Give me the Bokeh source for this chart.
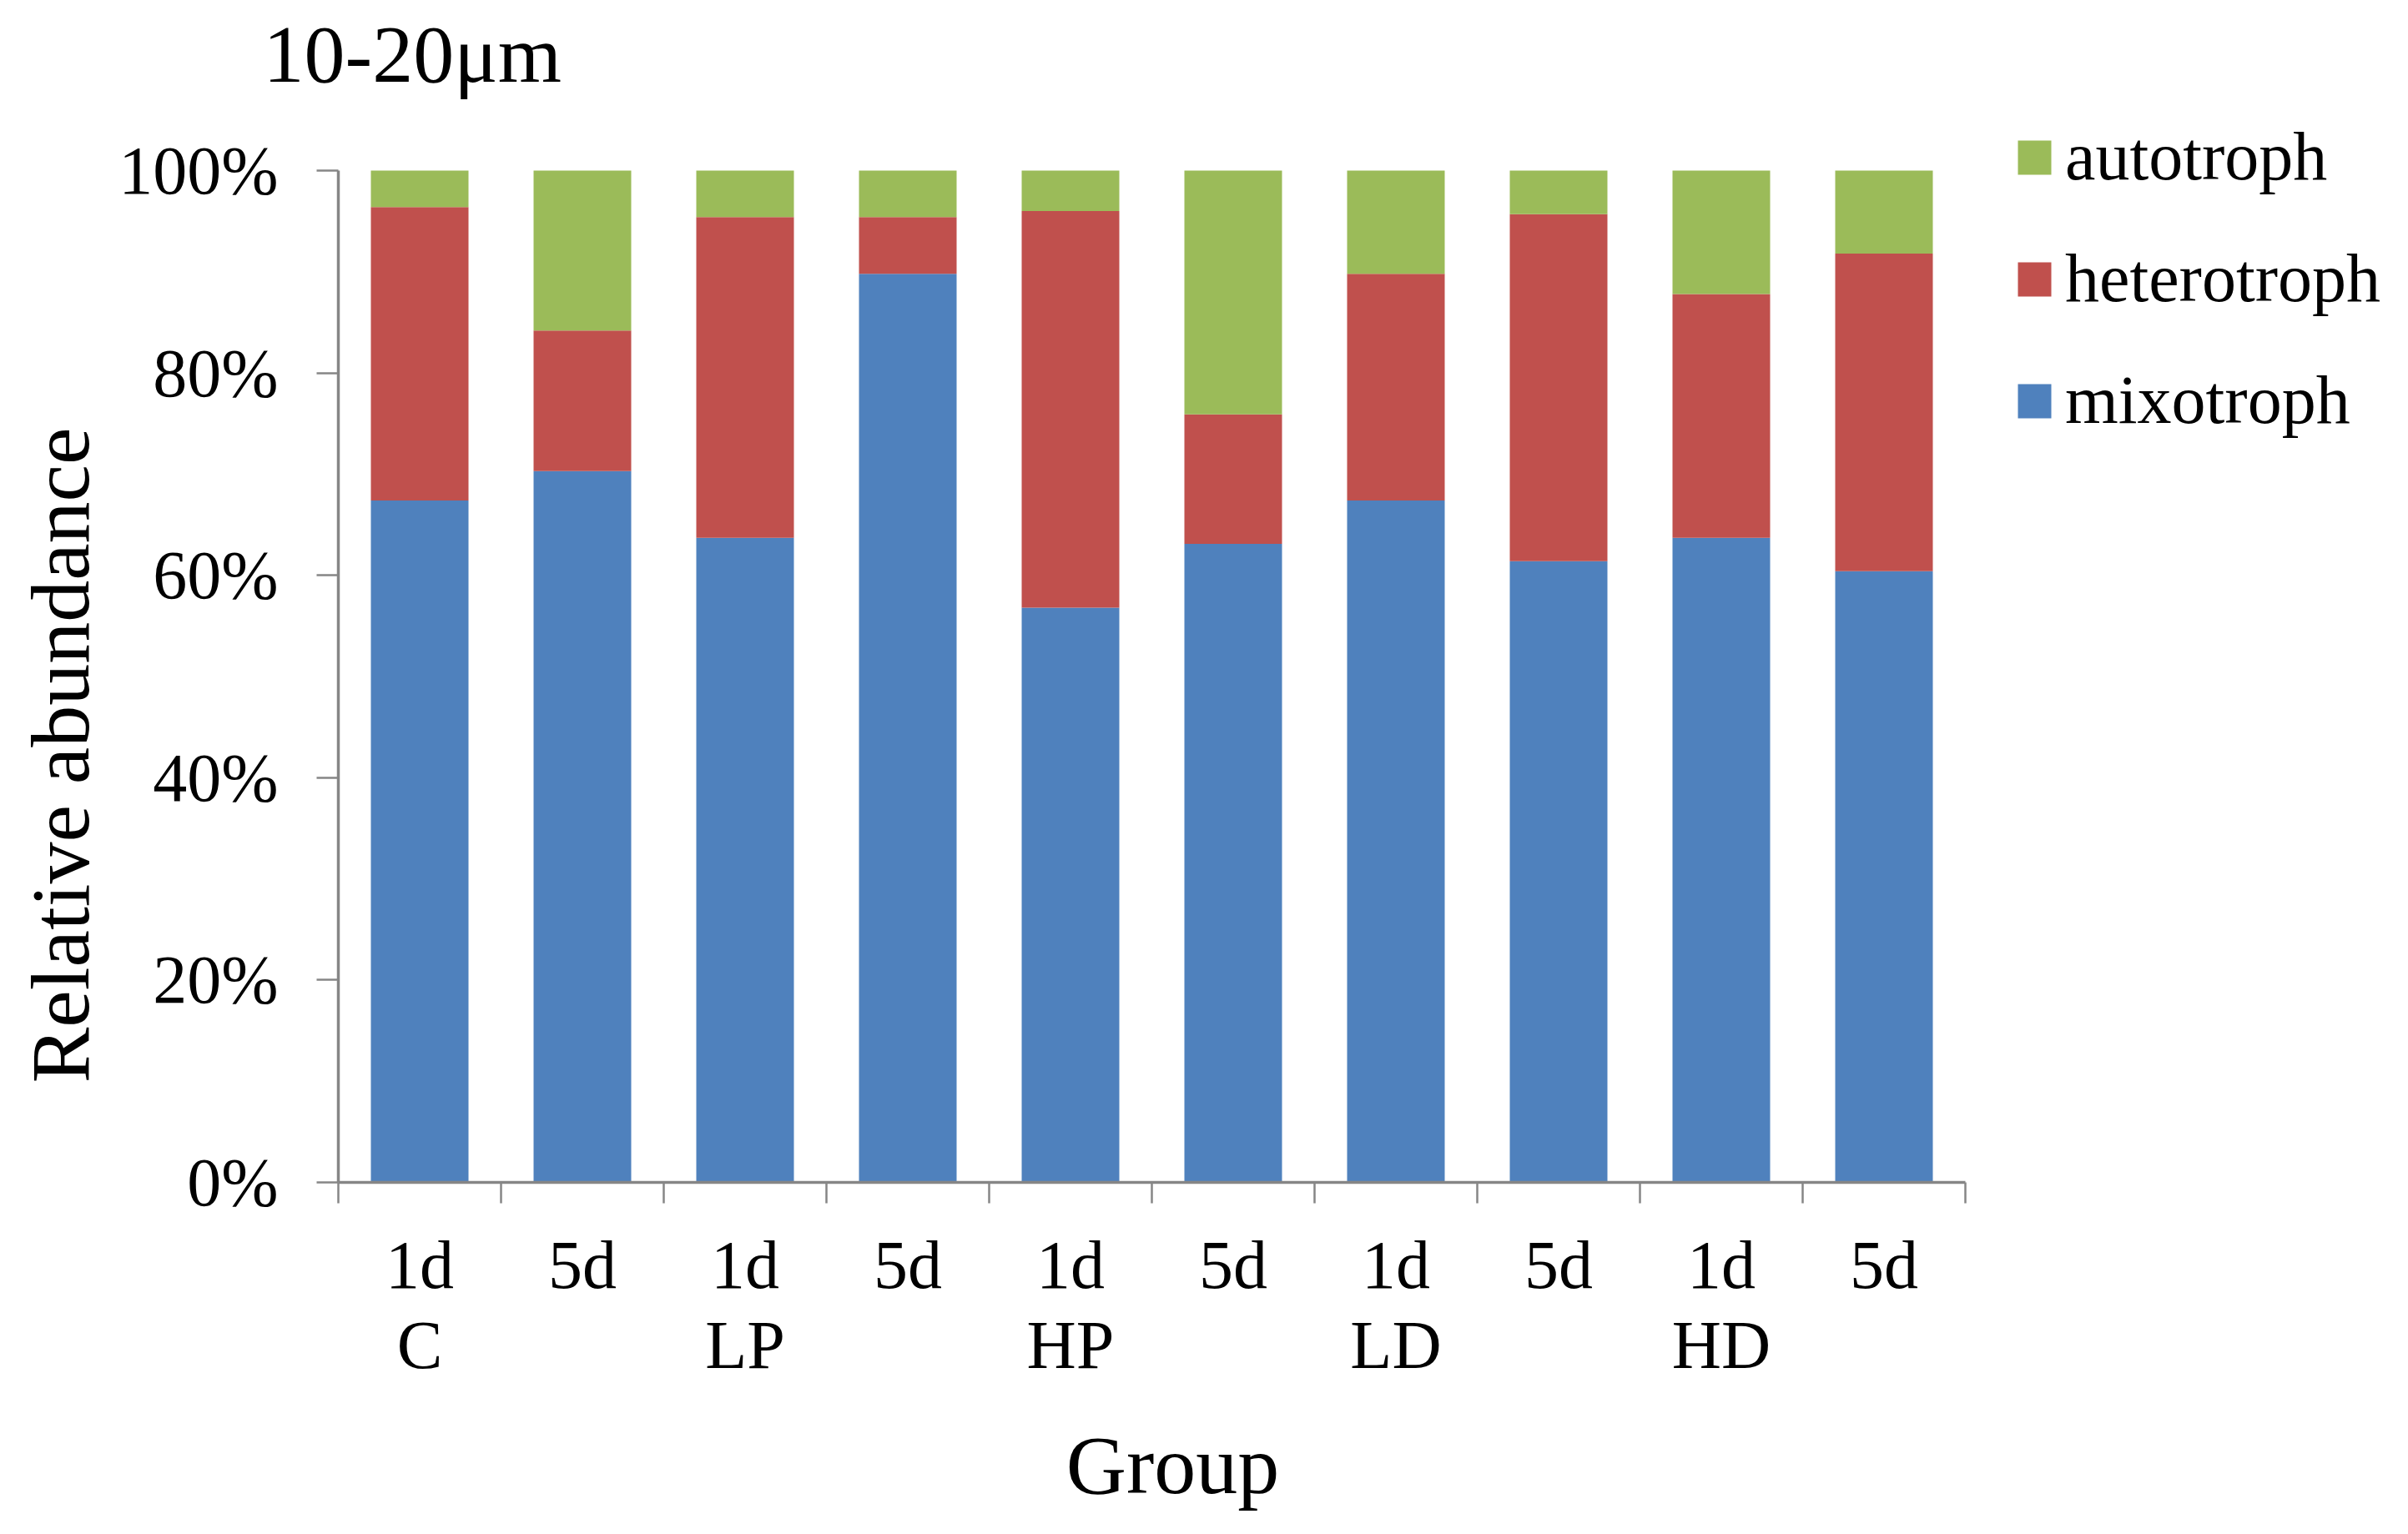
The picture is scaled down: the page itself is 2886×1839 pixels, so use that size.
from math import pi
from bokeh.plotting import figure
from bokeh.models import (ColumnDataSource, Range1d, FixedTicker, PrintfTickFormatter,
                          Label, Legend, LegendItem)
from bokeh.embed import file_html
from bokeh.resources import INLINE

# ---------------- data ----------------
title_text = "10-20μm"
groups = ["C", "LP", "HP", "LD", "HD"]
days = ["1d", "5d"]
series_names = ["mixotroph", "heterotroph", "autotroph"]
mixotroph = [67.4, 70.3, 63.7, 89.8, 56.8, 63.1, 67.4, 61.4, 63.7, 60.4]
heterotroph = [29.0, 13.9, 31.7, 5.6, 39.2, 12.8, 22.4, 34.3, 24.1, 31.4]
autotroph = [3.6, 15.8, 4.6, 4.6, 4.0, 24.1, 10.2, 4.3, 12.2, 8.2]
y_ticks = [0, 20, 40, 60, 80, 100]
colors = ["#4F81BD", "#C0504D", "#9BBB59"]

FONT = "Liberation Serif"
GRAY = "#868686"

# ---------------- layout (pixels) ----------------
W, H = 2870, 1823
PLOT_L, PLOT_R, PLOT_T, PLOT_B = 405, 2355, 204, 1417

n = len(groups) * len(days)
y_max = 100
kx = (PLOT_R - PLOT_L) / n          # px per category
ky = (PLOT_B - PLOT_T) / y_max      # px per percent


def dx(px):
    return (px - PLOT_L) / kx


def dy(py):
    return (PLOT_B - py) / ky


xpos = [i + 0.5 for i in range(n)]
tick_labels = {}
for gi, g in enumerate(groups):
    for di, d in enumerate(days):
        idx = gi * len(days) + di
        tick_labels[xpos[idx]] = f"{d}\n{g}" if di == 0 else d

source = ColumnDataSource(dict(x=xpos, mixotroph=mixotroph,
                               heterotroph=heterotroph, autotroph=autotroph))

p = figure(width=W, height=H, output_backend="svg", toolbar_location=None,
           x_range=Range1d(dx(0), dx(W)), y_range=Range1d(dy(H), dy(0)),
           min_border=0)
p.outline_line_color = None
p.xgrid.visible = False
p.ygrid.visible = False

rs = p.vbar_stack(series_names, x="x", width=0.6, source=source,
                  fill_color=colors, line_color=None)

# y axis
ya = p.yaxis[0]
ya.fixed_location = 0
ya.bounds = (0, y_max)
ya.ticker = FixedTicker(ticks=y_ticks)
ya.formatter = PrintfTickFormatter(format="%d%%")
ya.major_label_text_font = FONT
ya.major_label_text_font_size = "82px"
ya.major_label_text_color = "black"
ya.major_tick_out = 26
ya.major_tick_in = 0
ya.major_label_standoff = 46
ya.axis_line_color = GRAY
ya.axis_line_width = 3.5
ya.major_tick_line_color = GRAY
ya.major_tick_line_width = 2.5
ya.minor_tick_line_color = None

# x axis
xa = p.xaxis[0]
xa.fixed_location = 0
xa.bounds = (0, n)
xa.ticker = FixedTicker(ticks=xpos, minor_ticks=list(range(n + 1)))
xa.major_label_overrides = tick_labels
xa.major_label_text_font = FONT
xa.major_label_text_font_size = "82px"
xa.major_label_text_color = "black"
xa.major_label_text_line_height = 1.06
xa.major_tick_line_color = None
xa.major_tick_out = 0
xa.major_tick_in = 0
xa.major_label_standoff = 28
xa.minor_tick_out = 25
xa.minor_tick_in = 0
xa.minor_tick_line_color = GRAY
xa.minor_tick_line_width = 2.5
xa.axis_line_color = GRAY
xa.axis_line_width = 3.5

# title and axis titles
p.add_layout(Label(x=dx(315), y=dy(64), text=title_text, text_font=FONT,
                   text_font_size="98px", text_align="left",
                   text_baseline="alphabetic", text_color="black"))
p.add_layout(Label(x=dx(72), y=dy(905), text="Relative abundance", angle=pi / 2,
                   text_font=FONT, text_font_size="100px", text_align="center",
                   text_baseline="alphabetic", text_color="black"))
p.add_layout(Label(x=dx(1405), y=dy(1756), text="Group", text_font=FONT,
                   text_font_size="100px", text_align="center",
                   text_baseline="alphabetic", text_color="black"))

legend = Legend(items=[LegendItem(label=series_names[2], renderers=[rs[2]]),
                       LegendItem(label=series_names[1], renderers=[rs[1]]),
                       LegendItem(label=series_names[0], renderers=[rs[0]])],
                location=(2413, H - 527), orientation="vertical",
                glyph_width=50, glyph_height=51, label_standoff=12, spacing=52,
                padding=0, margin=0, border_line_color=None,
                background_fill_alpha=0, label_text_font=FONT,
                label_text_font_size="82px", label_text_color="black")
p.add_layout(legend)

with open("out.html", "w", encoding="utf-8") as f:
    f.write(file_html(p, INLINE))
